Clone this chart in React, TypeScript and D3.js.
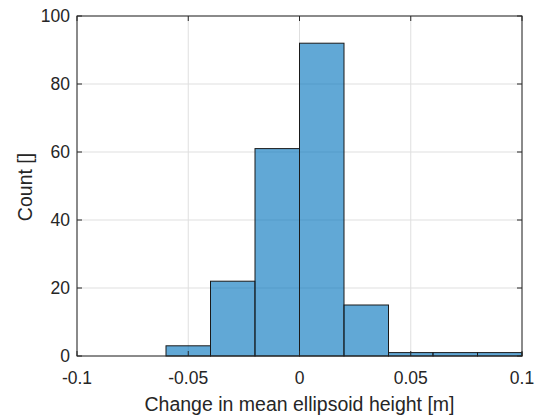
import React, { useEffect, useRef } from 'react';
import * as d3 from 'd3';

// bin edges and counts
const binEdges = [-0.06, -0.04, -0.02, 0, 0.02, 0.04, 0.06, 0.08, 0.1];
const counts = [3, 22, 61, 92, 15, 1, 1, 1];
const xTicks = [-0.1, -0.05, 0, 0.05, 0.1];
const yTicks = [0, 20, 40, 60, 80, 100];

const App = () => {
  const ref = useRef<SVGSVGElement>(null);

  useEffect(() => {
    if (!ref.current) return;
    const W = 537, H = 419;
    const margin = { top: 16, right: 15, bottom: 63, left: 77 };
    const width = W - margin.left - margin.right;
    const height = H - margin.top - margin.bottom;

    const svg = d3.select(ref.current);
    svg.selectAll('*').remove();
    const g = svg.append('g').attr('transform', `translate(${margin.left},${margin.top})`);

    const x = d3.scaleLinear().domain([-0.1, 0.1]).range([0, width]);
    const y = d3.scaleLinear().domain([0, 100]).range([height, 0]);

    const font = 'Liberation Sans, Arial, sans-serif';
    const axisColor = '#262626';

    // grid
    g.append('g').selectAll('line').data(xTicks).join('line')
      .attr('x1', d => x(d)).attr('x2', d => x(d))
      .attr('y1', 0).attr('y2', height)
      .attr('stroke', '#dfdfdf').attr('stroke-width', 1);
    g.append('g').selectAll('line').data(yTicks).join('line')
      .attr('x1', 0).attr('x2', width)
      .attr('y1', d => y(d)).attr('y2', d => y(d))
      .attr('stroke', '#dfdfdf').attr('stroke-width', 1);

    // bars
    const bins = counts.map((c, i) => ({ x0: binEdges[i], x1: binEdges[i + 1], c }));
    g.append('g').selectAll('rect').data(bins).join('rect')
      .attr('x', d => x(d.x0))
      .attr('width', d => x(d.x1) - x(d.x0))
      .attr('y', d => y(d.c))
      .attr('height', d => y(0) - y(d.c))
      .attr('fill', 'rgba(0,114,189,0.62)')
      .attr('stroke', '#1a1a1a')
      .attr('stroke-width', 1);

    // box
    g.append('rect')
      .attr('x', 0).attr('y', 0).attr('width', width).attr('height', height)
      .attr('fill', 'none').attr('stroke', axisColor).attr('stroke-width', 1);

    // inward ticks
    const tl = 5;
    xTicks.forEach(t => {
      g.append('line').attr('x1', x(t)).attr('x2', x(t)).attr('y1', height).attr('y2', height - tl)
        .attr('stroke', axisColor);
      g.append('line').attr('x1', x(t)).attr('x2', x(t)).attr('y1', 0).attr('y2', tl)
        .attr('stroke', axisColor);
    });
    yTicks.forEach(t => {
      g.append('line').attr('x1', 0).attr('x2', tl).attr('y1', y(t)).attr('y2', y(t))
        .attr('stroke', axisColor);
      g.append('line').attr('x1', width).attr('x2', width - tl).attr('y1', y(t)).attr('y2', y(t))
        .attr('stroke', axisColor);
    });

    // tick labels
    g.append('g').selectAll('text').data(xTicks).join('text')
      .attr('x', d => x(d)).attr('y', height + 28)
      .attr('text-anchor', 'middle')
      .attr('font-family', font).attr('font-size', 17.5).attr('fill', axisColor)
      .text(d => String(d));
    g.append('g').selectAll('text').data(yTicks).join('text')
      .attr('x', -7).attr('y', d => y(d)).attr('dy', '0.35em')
      .attr('text-anchor', 'end')
      .attr('font-family', font).attr('font-size', 17.5).attr('fill', axisColor)
      .text(d => String(d));

    // axis labels
    g.append('text')
      .attr('x', width / 2).attr('y', height + 55)
      .attr('text-anchor', 'middle')
      .attr('font-family', font).attr('font-size', 19.5).attr('fill', axisColor)
      .text('Change in mean ellipsoid height [m]');
    g.append('text')
      .attr('transform', `translate(${-45},${height / 2 + 1}) rotate(-90)`)
      .attr('text-anchor', 'middle')
      .attr('font-family', font).attr('font-size', 19.5).attr('fill', axisColor)
      .text('Count []');
  }, []);

  return <svg ref={ref} width={537} height={419} style={{ display: 'block', position: 'absolute', left: 0, top: 0 }} />;
};

export default App;
